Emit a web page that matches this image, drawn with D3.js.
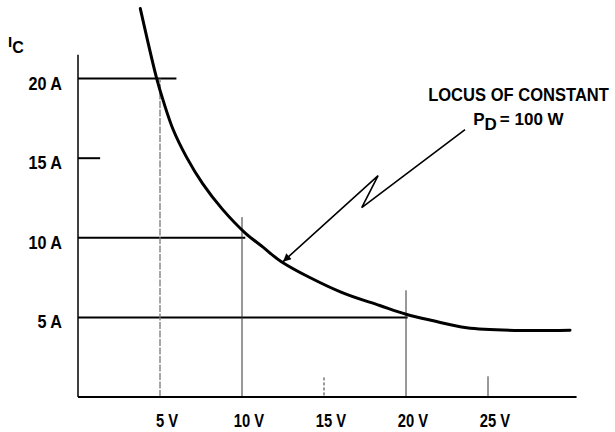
<!DOCTYPE html>
<html>
<head>
<meta charset="utf-8">
<script src="https://cdn.jsdelivr.net/npm/d3@7"></script>
<style>
  body { margin: 0; background: #fff; }
  svg { display: block; }
  text { font-family: "Liberation Sans", Arial, sans-serif; fill: #000; font-weight: bold; }
</style>
</head>
<body>
<svg width="615" height="432"></svg>
<script>
// values
const currentTicks = [20, 15, 10, 5];
const currentLabels = ["20 A", "15 A", "10 A", "5 A"];
const currentLineEnds = [6.0, 1.35, 10.2, 20.1];   // how far each horizontal line runs (V)

const voltageTicks = [5, 10, 15, 20, 25];
const voltageLabels = ["5 V", "10 V", "15 V", "20 V", "25 V"];
const voltageLineTops = [20, 11.3, 1.3, 6.7, 1.3];  // how high each vertical line runs (A)
const voltageLineBottoms = [0, 0, 0.1, 0, 0];

const locusV = [3.8, 4.8, 5.2, 5.8, 6.6, 7.6, 8.8, 10.2, 11.3, 12.4, 16, 18.4, 20, 21.6, 23.7, 26.8, 30];
const locusI = [24.4, 20, 18.6, 16.8, 15.1, 13.4, 11.8, 10.3, 9.4, 8.5, 6.6, 5.75, 5.2, 4.8, 4.35, 4.18, 4.2];

const arrowV = [23.6, 17.3, 18.3, 12.5];
const arrowI = [16.8, 11.9, 13.9, 8.5];

const svg = d3.select("svg");

const x = d3.scaleLinear().domain([0, 30]).range([78, 570]);
const y = d3.scaleLinear().domain([0, 20]).range([397, 78.6]);

// horizontal guide lines
svg.selectAll("line.hline")
    .data(currentTicks)
    .join("line")
    .attr("class", "hline")
    .attr("x1", x(0))
    .attr("x2", (d, i) => x(currentLineEnds[i]))
    .attr("y1", d => y(d)).attr("y2", d => y(d))
    .attr("stroke", "#000").attr("stroke-width", 2);

// vertical guide lines
svg.selectAll("line.vline")
    .data(voltageTicks)
    .join("line")
    .attr("class", "vline")
    .attr("x1", d => x(d)).attr("x2", d => x(d))
    .attr("y1", (d, i) => y(voltageLineBottoms[i]))
    .attr("y2", (d, i) => y(voltageLineTops[i]))
    .attr("stroke", (d, i) => i === 0 ? "#777" : "#333")
    .attr("stroke-width", (d, i) => i === 0 ? 1.3 : 1)
    .attr("stroke-dasharray", (d, i) => i === 0 ? "7,1.5" : (i === 2 ? "3,2" : null));

// y axis spine
svg.append("path")
    .attr("d", `M${x(0)},${y(21.5)}V${y(0)}`)
    .attr("fill", "none")
    .attr("stroke", "#000")
    .attr("stroke-width", 1.5);

// x axis spine
svg.append("path")
    .attr("d", `M${x(0)},${y(0)}H${x(30.4)}`)
    .attr("stroke", "#000")
    .attr("stroke-width", 2);

// tick labels
svg.selectAll("text.ylab")
    .data(currentTicks)
    .join("text")
    .attr("class", "ylab")
    .attr("transform", d => `translate(62,${y(d) + 11}) scale(0.9,1)`)
    .attr("text-anchor", "end")
    .attr("font-size", 18)
    .text((d, i) => currentLabels[i]);

svg.selectAll("text.xlab")
    .data(voltageTicks)
    .join("text")
    .attr("class", "xlab")
    .attr("transform", d => `translate(${x(d) + 7},427) scale(0.82,1)`)
    .attr("text-anchor", "middle")
    .attr("font-size", 18)
    .text((d, i) => voltageLabels[i]);

// axis title I_C
const ic = svg.append("text").attr("x", 8).attr("y", 47).attr("font-size", 15);
ic.append("tspan").text("I");
ic.append("tspan").attr("dy", 6).attr("font-size", 16).text("C");

// constant power locus
const line = d3.line()
    .x(d => x(d[0]))
    .y(d => y(d[1]))
    .curve(d3.curveCatmullRom.alpha(0.5));

svg.append("path")
    .datum(locusV.map((v, i) => [v, locusI[i]]))
    .attr("d", line)
    .attr("fill", "none")
    .attr("stroke", "#000")
    .attr("stroke-width", 3)
    .attr("stroke-linecap", "round");

// annotation arrow
svg.append("defs").append("marker")
    .attr("id", "head")
    .attr("viewBox", "0 0 10 10")
    .attr("refX", 10).attr("refY", 5)
    .attr("markerWidth", 11).attr("markerHeight", 8)
    .attr("markerUnits", "userSpaceOnUse")
    .attr("orient", "auto")
    .append("path")
    .attr("d", "M0,0 L10,5 L0,10 Z")
    .attr("fill", "#000");

svg.append("path")
    .datum(arrowV.map((v, i) => [v, arrowI[i]]))
    .attr("d", d3.line().x(d => x(d[0])).y(d => y(d[1])))
    .attr("fill", "none")
    .attr("stroke", "#000")
    .attr("stroke-width", 1.6)
    .attr("marker-end", "url(#head)");

svg.append("text")
    .attr("transform", `translate(${x(21.35)},${y(18.6)}) scale(0.92,1)`)
    .attr("font-size", 18)
    .text("LOCUS OF CONSTANT");

const pd = svg.append("text")
    .attr("x", x(24.1)).attr("y", y(17.1))
    .attr("font-size", 17);
pd.append("tspan").text("P");
pd.append("tspan").attr("dy", 5).text("D");
pd.append("tspan").attr("dy", -5).attr("dx", 3).text("= 100 W");
</script>
</body>
</html>
